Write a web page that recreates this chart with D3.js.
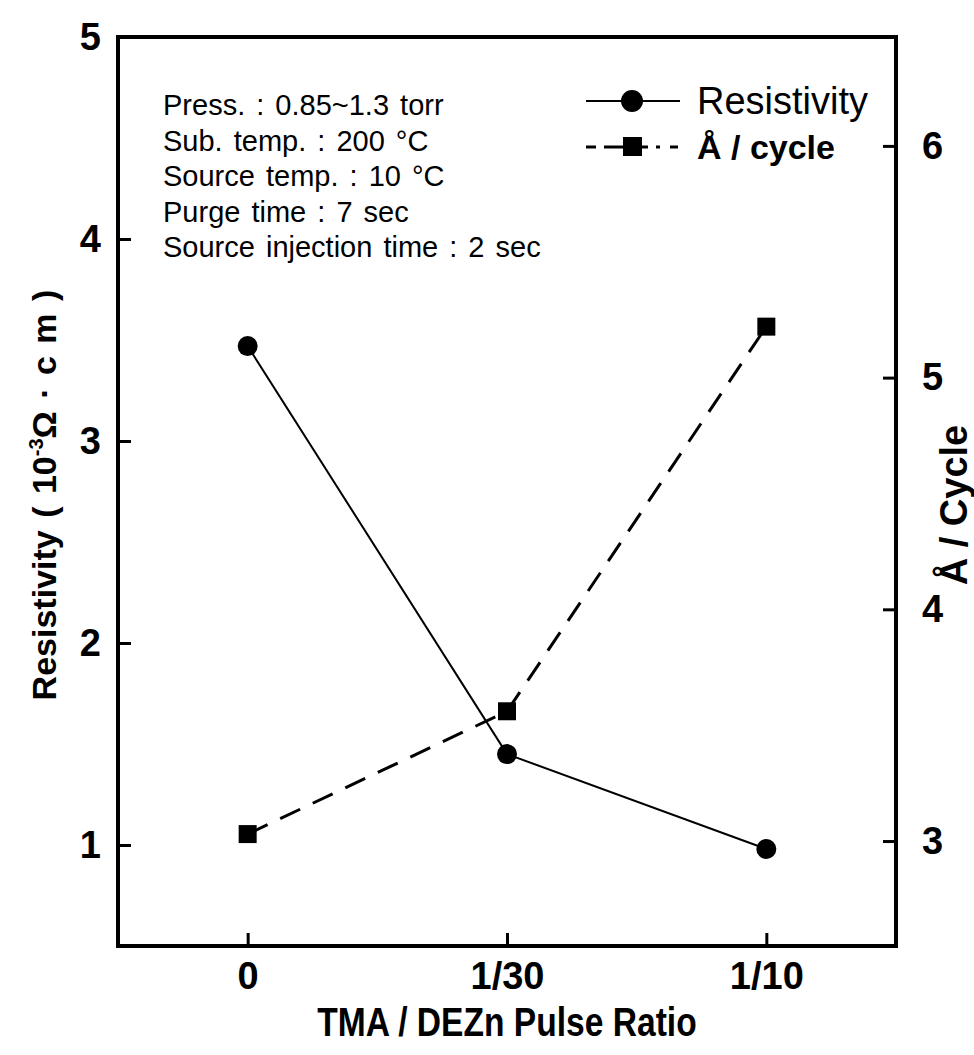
<!DOCTYPE html>
<html>
<head>
<meta charset="utf-8">
<script src="https://cdn.jsdelivr.net/npm/d3@7"></script>
<style>
  body { margin: 0; background: #fff; }
  svg { display: block; }
</style>
</head>
<body>
<script>
const W = 974, H = 1055;

const categories = ['0', '1/30', '1/10'];
const resistivity = [3.47, 1.45, 0.98];
const growthRate = [3.03, 3.56, 5.22];
const leftTicks = [1, 2, 3, 4, 5];
const rightTicks = [3, 4, 5, 6];
const notes = [
  'Press. : 0.85~1.3 torr',
  'Sub. temp. : 200 °C',
  'Source temp. : 10 °C',
  'Purge time : 7 sec',
  'Source injection time : 2 sec'
];

const frame = {left: 118, right: 896, top: 37, bottom: 946};
const sans = '"Liberation Sans", Arial, sans-serif';

const svg = d3.select('body')
              .append('svg')
              .attr('width', W)
              .attr('height', H);

const x = d3.scaleLinear().domain([-0.5, 2.5]).range([frame.left, frame.right]);
const yL = d3.scaleLinear().domain([0.5, 5]).range([frame.bottom, frame.top]);
const yR = d3.scaleLinear().domain([2.547, 6.47]).range([frame.bottom, frame.top]);

// axes, ticks pointing inward
const xAxis = d3.axisBottom(x).tickValues([0, 1, 2]).tickFormat(i => categories[i])
                .tickSizeInner(-13).tickSizeOuter(0).tickPadding(16);
const lAxis = d3.axisLeft(yL).tickValues(leftTicks).tickFormat(d3.format('d'))
                .tickSizeInner(-13).tickSizeOuter(0).tickPadding(17);
const rAxis = d3.axisRight(yR).tickValues(rightTicks).tickFormat(d3.format('d'))
                .tickSizeInner(-13).tickSizeOuter(0).tickPadding(26);

function styleAxis(g) {
  g.select('.domain').remove();
  g.selectAll('line').attr('stroke', '#000').attr('stroke-width', 3);
  g.selectAll('text').attr('fill', '#000')
    .style('font-family', sans).style('font-weight', 'bold').style('font-size', '38px');
}

svg.append('g').attr('transform', `translate(0,${frame.bottom})`).call(xAxis).call(styleAxis);
svg.append('g').attr('transform', `translate(${frame.left},0)`).call(lAxis).call(styleAxis);
svg.append('g').attr('transform', `translate(${frame.right},0)`).call(rAxis).call(styleAxis);

svg.append('rect')
   .attr('x', frame.left).attr('y', frame.top)
   .attr('width', frame.right - frame.left).attr('height', frame.bottom - frame.top)
   .attr('fill', 'none').attr('stroke', '#000').attr('stroke-width', 4);

// axis titles
svg.append('text')
   .attr('transform', `translate(${(frame.left + frame.right) / 2},1036) scale(0.84,1)`)
   .attr('text-anchor', 'middle')
   .style('font-family', sans).style('font-weight', 'bold').style('font-size', '40px')
   .text('TMA / DEZn Pulse Ratio');

const yl = svg.append('text')
   .attr('transform', 'translate(56,495) rotate(-90)')
   .attr('text-anchor', 'middle')
   .style('font-family', sans).style('font-weight', 'bold').style('font-size', '34px')
   .style('word-spacing', '3px');
yl.append('tspan').text('Resistivity ( 10');
yl.append('tspan').attr('dy', -13).style('font-size', '20px').text('-3');
yl.append('tspan').attr('dy', 13).text('Ω · c m )');

svg.append('text')
   .attr('transform', 'translate(967,505) rotate(-90)')
   .attr('text-anchor', 'middle')
   .style('font-family', sans).style('font-weight', 'bold').style('font-size', '38px')
   .text('Å / Cycle');

// condition notes
svg.append('g').selectAll('text')
   .data(notes)
   .join('text')
   .attr('x', 163)
   .attr('y', (d, i) => 115 + i * 35.5)
   .style('font-family', sans).style('font-size', '29px')
   .style('word-spacing', '3px')
   .text(d => d);

// series
const resLine = d3.line().x((d, i) => x(i)).y(d => yL(d));
const rateLine = d3.line().x((d, i) => x(i)).y(d => yR(d));

svg.append('path')
   .attr('d', resLine(resistivity))
   .attr('fill', 'none').attr('stroke', '#000').attr('stroke-width', 2);

svg.append('path')
   .attr('d', rateLine(growthRate))
   .attr('fill', 'none').attr('stroke', '#000').attr('stroke-width', 3)
   .attr('stroke-dasharray', '22,14');

svg.append('g').selectAll('circle')
   .data(resistivity)
   .join('circle')
   .attr('cx', (d, i) => x(i))
   .attr('cy', d => yL(d))
   .attr('r', 10)
   .attr('fill', '#000');

svg.append('g').selectAll('rect')
   .data(growthRate)
   .join('rect')
   .attr('x', (d, i) => x(i) - 9)
   .attr('y', d => yR(d) - 9)
   .attr('width', 18).attr('height', 18)
   .attr('fill', '#000');

// legend
const lg = svg.append('g');
lg.append('line').attr('x1', 586).attr('x2', 680).attr('y1', 101).attr('y2', 101)
  .attr('stroke', '#000').attr('stroke-width', 2);
lg.append('circle').attr('cx', 632).attr('cy', 101).attr('r', 11).attr('fill', '#000');
lg.append('text').attr('x', 697).attr('y', 114)
  .style('font-family', sans).style('font-size', '38px').text('Resistivity');

lg.append('line').attr('x1', 586).attr('x2', 682).attr('y1', 147).attr('y2', 147)
  .attr('stroke', '#000').attr('stroke-width', 3).attr('stroke-dasharray', '10,8,22,8,14,8,4');
lg.append('rect').attr('x', 623).attr('y', 137).attr('width', 19).attr('height', 19).attr('fill', '#000');
lg.append('text').attr('x', 697).attr('y', 159)
  .style('font-family', sans).style('font-weight', 'bold').style('font-size', '34px').text('Å / cycle');
</script>
</body>
</html>
